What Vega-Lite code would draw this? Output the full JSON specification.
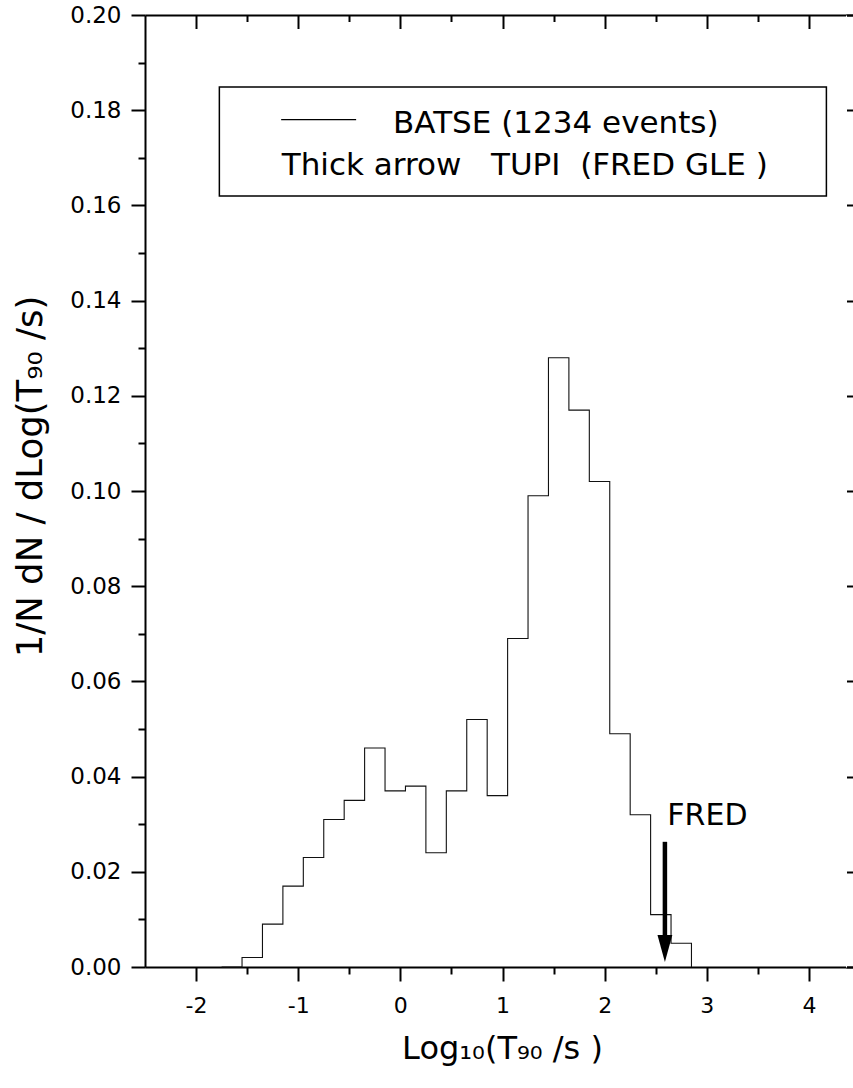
{
  "$schema": "https://vega.github.io/schema/vega-lite/v6.json",
  "width": 715,
  "height": 952,
  "autosize": {"type": "none"},
  "padding": {"left": 145, "top": 15, "right": -7, "bottom": 121},
  "background": "white",
  "config": {
    "view": {"stroke": null},
    "font": "DejaVu Sans",
    "axis": {
      "grid": false,
      "domainColor": "black",
      "tickColor": "black",
      "domainWidth": 2,
      "tickWidth": 2,
      "labelColor": "black",
      "titleColor": "black",
      "labelFont": "DejaVu Sans",
      "titleFont": "DejaVu Sans",
      "labelOverlap": false,
      "titleFontWeight": "normal"
    }
  },
  "datasets": {
    "hist": [
      {"x": -1.75, "y": 0},
      {"x": -1.55, "y": 0.002},
      {"x": -1.35, "y": 0.009},
      {"x": -1.15, "y": 0.017},
      {"x": -0.95, "y": 0.023},
      {"x": -0.75, "y": 0.031},
      {"x": -0.55, "y": 0.035},
      {"x": -0.35, "y": 0.046},
      {"x": -0.15, "y": 0.037},
      {"x": 0.05, "y": 0.038},
      {"x": 0.25, "y": 0.024},
      {"x": 0.45, "y": 0.037},
      {"x": 0.65, "y": 0.052},
      {"x": 0.85, "y": 0.036},
      {"x": 1.05, "y": 0.069},
      {"x": 1.25, "y": 0.099},
      {"x": 1.45, "y": 0.128},
      {"x": 1.65, "y": 0.117},
      {"x": 1.85, "y": 0.102},
      {"x": 2.05, "y": 0.049},
      {"x": 2.25, "y": 0.032},
      {"x": 2.45, "y": 0.011},
      {"x": 2.65, "y": 0.005},
      {"x": 2.85, "y": 0}
    ],
    "box": [{"x1": -1.772, "x2": 4.171, "y1": 0.1849, "y2": 0.162}],
    "sample": [{"x1": -1.167, "x2": -0.433, "y": 0.178}],
    "arrow": [{"x": 2.59, "y1": 0.0263, "y2": 0.0065, "tip": 0.0039}],
    "notes": [
      {"x": -0.071, "y": 0.1752, "label": "BATSE (1234 events)", "size": 31},
      {"x": -1.161, "y": 0.1664, "label": "Thick arrow \u00a0 TUPI \u00a0(FRED GLE )", "size": 31},
      {"x": 2.614, "y": 0.0298, "label": "FRED", "size": 30}
    ]
  },
  "layer": [
    {
      "data": {"name": "hist"},
      "mark": {"type": "line", "interpolate": "step-after", "color": "#111", "strokeWidth": 1.1},
      "encoding": {
        "x": {
          "field": "x", "type": "quantitative",
          "scale": {"domain": [-2.5, 4.5], "nice": false, "zero": false},
          "axis": {
            "orient": "bottom", "values": [-2, -1, 0, 1, 2, 3, 4],
            "tickSize": 14, "labelFontSize": 22, "labelPadding": 14,
            "labelFlush": false,
            "labelExpr": "replace(datum.label, '\u2212', '-')",
            "title": "Log\u2081\u2080(T\u2089\u2080 /s )", "titleFontSize": 32,
            "titleBaseline": "alphabetic", "titleY": 91, "titleX": 357
          }
        },
        "y": {
          "field": "y", "type": "quantitative",
          "scale": {"domain": [0, 0.2], "nice": false},
          "axis": {
            "orient": "left",
            "values": [0, 0.02, 0.04, 0.06, 0.08, 0.1, 0.12, 0.14, 0.16, 0.18, 0.2],
            "format": ".2f", "tickSize": 14, "labelFontSize": 23, "labelPadding": 10,
            "title": "1/N dN / dLog(T\u2089\u2080 /s)", "titleFontSize": 35.5,
            "titleBaseline": "alphabetic", "titleAngle": -90, "titleX": -104, "titleY": 461
          }
        }
      }
    },
    {
      "data": {"name": "box"},
      "mark": {"type": "rect", "fill": "white", "stroke": "black", "strokeWidth": 1.5},
      "encoding": {
        "x": {
          "field": "x1", "type": "quantitative",
          "scale": {"domain": [-2.5, 4.5], "nice": false, "zero": false},
          "axis": {"orient": "bottom", "values": [-1.5, -0.5, 0.5, 1.5, 2.5, 3.5], "tickSize": 7, "labels": false, "domain": false, "title": null}
        },
        "x2": {"field": "x2"},
        "y": {
          "field": "y1", "type": "quantitative",
          "scale": {"domain": [0, 0.2], "nice": false},
          "axis": {"orient": "left", "values": [0.01, 0.03, 0.05, 0.07, 0.09, 0.11, 0.13, 0.15, 0.17, 0.19], "tickSize": 7, "labels": false, "domain": false, "title": null}
        },
        "y2": {"field": "y2"}
      }
    },
    {
      "data": {"name": "sample"},
      "mark": {"type": "rule", "color": "black", "strokeWidth": 1.2},
      "encoding": {
        "x": {
          "field": "x1", "type": "quantitative",
          "scale": {"domain": [-2.5, 4.5], "nice": false, "zero": false},
          "axis": {"orient": "top", "values": [-1.5, -0.5, 0.5, 1.5, 2.5, 3.5], "tickSize": 7, "offset": -7, "tickColor": "black", "labels": true, "labelColor": "white", "labelFontSize": 10, "domain": true, "domainColor": "white", "domainWidth": 1, "title": null}
        },
        "x2": {"field": "x2"},
        "y": {
          "field": "y", "type": "quantitative",
          "scale": {"domain": [0, 0.2], "nice": false},
          "axis": {"orient": "right", "values": [0, 0.02, 0.04, 0.06, 0.08, 0.1, 0.12, 0.14, 0.16, 0.18, 0.2], "tickSize": 14, "offset": -14, "tickColor": "black", "labels": true, "labelColor": "white", "labelFontSize": 10, "labelPadding": -40, "labelExpr": "datum.value > 0.001 && datum.value < 0.199 ? datum.label : ''", "domain": true, "domainColor": "white", "domainWidth": 1, "title": null}
        }
      }
    },
    {
      "data": {"name": "arrow"},
      "mark": {"type": "rule", "color": "black", "strokeWidth": 4.5},
      "encoding": {
        "x": {
          "field": "x", "type": "quantitative",
          "scale": {"domain": [-2.5, 4.5], "nice": false, "zero": false},
          "axis": {"orient": "top", "values": [-2, -1, 0, 1, 2, 3, 4], "tickSize": 14, "offset": -14, "tickColor": "black", "labels": true, "labelColor": "white", "labelFontSize": 10, "domain": true, "domainColor": "white", "domainWidth": 1, "title": null}
        },
        "y": {
          "field": "y1", "type": "quantitative",
          "scale": {"domain": [0, 0.2], "nice": false},
          "axis": null
        },
        "y2": {"field": "y2"}
      }
    },
    {
      "data": {"name": "arrow"},
      "mark": {"type": "point", "shape": "M-0.55,-1L0.55,-1L0,1Z", "size": 729, "filled": true, "color": "black", "opacity": 1},
      "encoding": {
        "x": {
          "field": "x", "type": "quantitative",
          "scale": {"domain": [-2.5, 4.5], "nice": false, "zero": false},
          "axis": {"orient": "top", "ticks": false, "labels": false, "domain": true, "title": null}
        },
        "y": {
          "field": "tip", "type": "quantitative",
          "scale": {"domain": [0, 0.2], "nice": false},
          "axis": {"orient": "right", "ticks": false, "labels": false, "domain": true, "title": null}
        }
      }
    },
    {
      "data": {"name": "notes"},
      "mark": {"type": "text", "align": "left", "baseline": "alphabetic", "color": "black", "font": "DejaVu Sans"},
      "encoding": {
        "x": {"field": "x", "type": "quantitative", "scale": {"domain": [-2.5, 4.5], "nice": false, "zero": false}, "axis": null},
        "y": {"field": "y", "type": "quantitative", "scale": {"domain": [0, 0.2], "nice": false}, "axis": null},
        "text": {"field": "label"},
        "size": {"field": "size", "type": "quantitative", "scale": null}
      }
    }
  ],
  "resolve": {"axis": {"x": "independent", "y": "independent"}}
}
